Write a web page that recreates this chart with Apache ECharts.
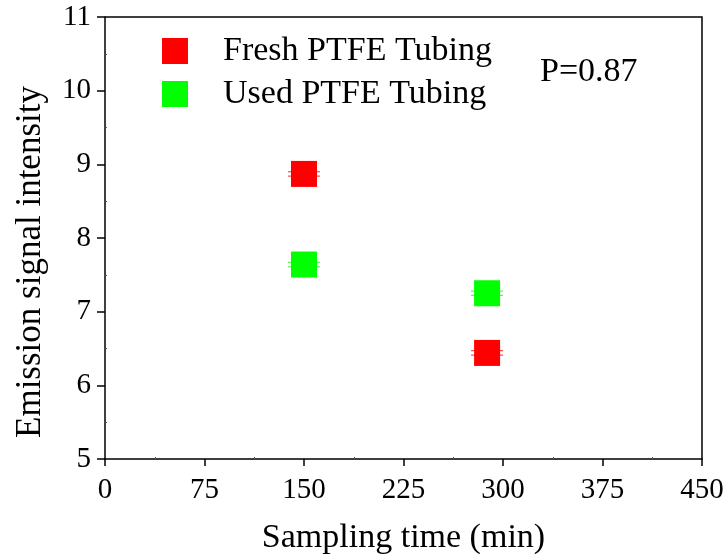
<!DOCTYPE html>
<html>
<head>
<meta charset="utf-8">
<script src="https://cdn.jsdelivr.net/npm/echarts@6/dist/echarts.min.js"></script>
<style>
  html, body { margin: 0; padding: 0; background: #fff; }
  #chart { width: 727px; height: 556px; }
</style>
</head>
<body>
<div id="chart"></div>
<script>
// Sampling times (min) and emission intensities for both tubing conditions
const sampleTimes = [150, 288];
const freshValues = [8.87, 6.44];
const usedValues = [7.64, 7.25];
const freshErrors = [0.03, 0.03];
const usedErrors = [0.03, 0.03];
const seriesNames = ['Fresh PTFE Tubing', 'Used PTFE Tubing'];
const xTicks = [0, 75, 150, 225, 300, 375, 450];
const yTicks = [5, 6, 7, 8, 9, 10, 11];
const yAxisTitle = 'Emission signal intensity';
const xAxisTitle = 'Sampling time (min)';
const pValueText = 'P=0.87';

const FONT = '"Liberation Serif", "Times New Roman", serif';
const colors = ['#ff0000', '#00ff00'];

function pointData(values) {
  return sampleTimes.map((t, i) => [t, values[i]]);
}
function errorData(values, errs) {
  return sampleTimes.map((t, i) => [t, values[i] - errs[i], values[i] + errs[i]]);
}

function errorBarSeries(name, values, errs, color) {
  return {
    type: 'custom',
    name: name + ' error',
    data: errorData(values, errs),
    z: 3,
    silent: true,
    renderItem: function (params, api) {
      const x = api.value(0);
      const lo = api.coord([x, api.value(1)]);
      const hi = api.coord([x, api.value(2)]);
      const half = 16;
      const style = { stroke: color, lineWidth: 1.2, opacity: 0.7 };
      return {
        type: 'group',
        children: [
          { type: 'line', shape: { x1: lo[0], y1: lo[1], x2: hi[0], y2: hi[1] }, style: style },
          { type: 'line', shape: { x1: lo[0] - half, y1: lo[1], x2: lo[0] + half, y2: lo[1] }, style: style },
          { type: 'line', shape: { x1: hi[0] - half, y1: hi[1], x2: hi[0] + half, y2: hi[1] }, style: style }
        ]
      };
    }
  };
}

const chart = echarts.init(document.getElementById('chart'), null, { renderer: 'canvas' });

chart.setOption({
  animation: false,
  backgroundColor: '#fff',
  grid: { left: 105, right: 25, top: 17, bottom: 97, show: false, containLabel: false, outerBoundsMode: 'none' },
  legend: {
    orient: 'vertical',
    left: 162,
    top: 34,
    padding: 0,
    itemWidth: 26,
    itemHeight: 26,
    itemGap: 9,
    icon: 'rect',
    data: seriesNames,
    textStyle: { fontFamily: FONT, fontSize: 34, lineHeight: 26, height: 26, color: '#000', padding: [0, 0, 0, 30] }
  },
  xAxis: {
    type: 'value',
    min: xTicks[0],
    max: xTicks[xTicks.length - 1],
    interval: 75,
    name: xAxisTitle,
    nameLocation: 'middle',
    nameGap: 62,
    nameTextStyle: { fontFamily: FONT, fontSize: 34, color: '#000' },
    axisLine: { show: true, onZero: false, lineStyle: { color: '#000', width: 1.5 } },
    axisTick: { show: true, length: 7, lineStyle: { color: '#000', width: 1.5 } },
    minorTick: { show: true, splitNumber: 2, length: -2, lineStyle: { color: '#555', width: 1 } },
    axisLabel: { fontFamily: FONT, fontSize: 29, color: '#000', margin: 17 },
    splitLine: { show: false }
  },
  yAxis: {
    type: 'value',
    min: yTicks[0],
    max: yTicks[yTicks.length - 1],
    interval: 1,
    axisLine: { show: true, onZero: false, lineStyle: { color: '#000', width: 1.5 } },
    axisTick: { show: true, length: 8, lineStyle: { color: '#000', width: 1.5 } },
    minorTick: { show: true, splitNumber: 2, length: -2, lineStyle: { color: '#555', width: 1 } },
    axisLabel: { fontFamily: FONT, fontSize: 29, color: '#000', margin: 14 },
    splitLine: { show: false }
  },
  graphic: [
    {
      // top and right frame lines of the plot box
      type: 'polyline',
      shape: { points: [[105, 17], [702, 17], [702, 459]] },
      style: { stroke: '#000', lineWidth: 1.5, fill: null },
      z: 10
    },
    {
      // vertical axis title, centred a little below the plot middle
      type: 'text',
      x: 31,
      y: 262,
      rotation: Math.PI / 2,
      style: {
        text: yAxisTitle, fontFamily: FONT, fontSize: 35, fill: '#000',
        align: 'center', verticalAlign: 'middle'
      },
      z: 10
    },
    {
      type: 'text',
      left: 540,
      top: 55,
      style: { text: pValueText, fontFamily: FONT, fontSize: 34, fill: '#000' },
      z: 10
    }
  ],
  series: [
    errorBarSeries(seriesNames[0], freshValues, freshErrors, colors[0]),
    errorBarSeries(seriesNames[1], usedValues, usedErrors, colors[1]),
    {
      name: seriesNames[0],
      type: 'scatter',
      symbol: 'rect',
      symbolSize: 26,
      itemStyle: { color: colors[0], opacity: 1 },
      data: pointData(freshValues),
      z: 4
    },
    {
      name: seriesNames[1],
      type: 'scatter',
      symbol: 'rect',
      symbolSize: 26,
      itemStyle: { color: colors[1], opacity: 1 },
      data: pointData(usedValues),
      z: 4
    }
  ]
});
</script>
</body>
</html>
